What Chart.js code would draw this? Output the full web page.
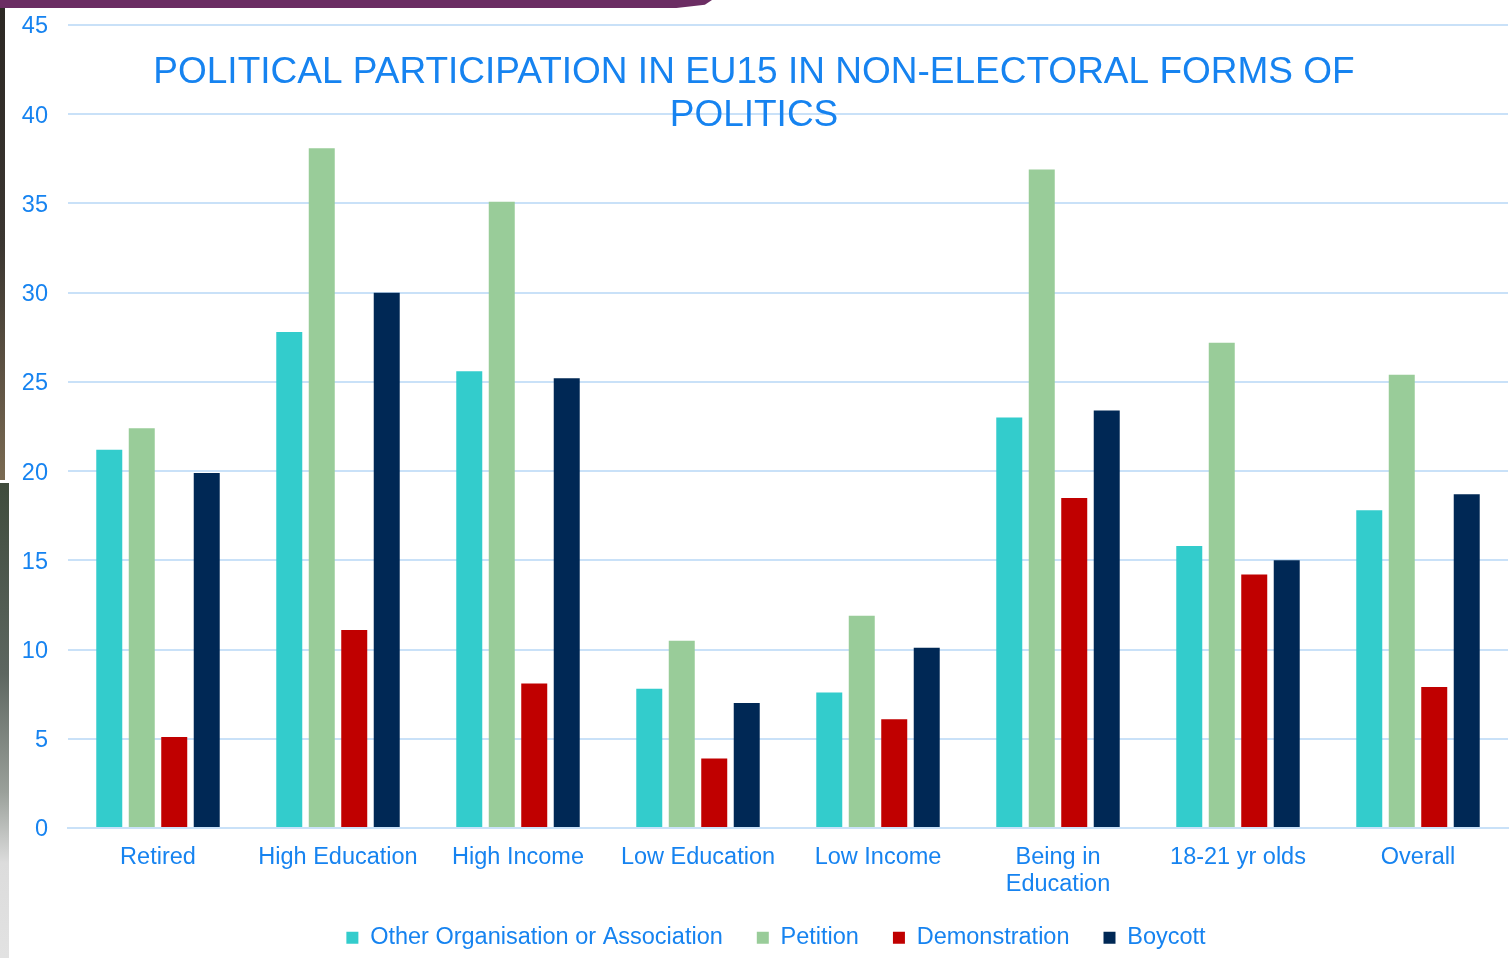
<!DOCTYPE html>
<html><head><meta charset="utf-8">
<script src="https://cdn.jsdelivr.net/npm/chart.js@4"></script>
<style>
html,body{margin:0;padding:0;background:#fff;overflow:hidden}
#wrap{position:relative;width:1511px;height:958px;background:#fff}
canvas{position:absolute;left:0;top:0}
#topbar{position:absolute;left:0;top:0;width:712px;height:8px;background:#6B2D63;clip-path:polygon(0 0,100% 0,99% 60%,95% 100%,0 100%)}
#strip1{position:absolute;left:0;top:8px;width:5px;height:472px;background:linear-gradient(#2c2824,#3b3631 50%,#7a6a52)}
#strip2{position:absolute;left:0;top:483px;width:9px;height:475px;background:linear-gradient(#3f4b3c,#5d6660 40%,#9aa09a 65%,#dcdcdc 80%,#e2e2e2)}
</style></head><body>
<div id="wrap">
<canvas id="c" width="1511" height="958"></canvas>
<div id="topbar"></div><div id="strip1"></div><div id="strip2"></div>
</div>
<script>
const categories = ['Retired','High Education','High Income','Low Education','Low Income',['Being in','Education'],'18-21 yr olds','Overall'];
const otherOrg = [21.2,27.8,25.6,7.8,7.6,23.0,15.8,17.8];
const petition = [22.4,38.1,35.1,10.5,11.9,36.9,27.2,25.4];
const demonstration = [5.1,11.1,8.1,3.9,6.1,18.5,14.2,7.9];
const boycott = [19.9,30.0,25.2,7.0,10.1,23.4,15.0,18.7];
const seriesNames = ['Other Organisation or Association','Petition','Demonstration','Boycott'];
const titleLines = ['POLITICAL PARTICIPATION IN EU15 IN NON-ELECTORAL FORMS OF','POLITICS'];

const BLUE = '#1683F0';
const GRID = '#C9E1F8';
const FONT = 'Liberation Sans';

const titlePlugin = {
  id: 'slideTitle',
  afterLayout(chart) {
    const lg = chart.legend;
    if (lg) { lg.left += 22; lg.right += 22; lg.top -= 22; }
  },
  afterDraw(chart) {
    const ctx = chart.ctx;
    ctx.save();
    ctx.font = '37px "' + FONT + '"';
    ctx.fillStyle = BLUE;
    ctx.textAlign = 'center';
    ctx.textBaseline = 'alphabetic';
    ctx.fillText(titleLines[0], 754, 82.5);
    ctx.fillText(titleLines[1], 754, 126);
    ctx.restore();
  }
};

const colors = ['#33CCCC','#99CC99','#C00000','#002855'];
const values = [otherOrg, petition, demonstration, boycott];

new Chart(document.getElementById('c'), {
  type: 'bar',
  data: {
    labels: categories,
    datasets: values.map((v, i) => ({
      label: seriesNames[i],
      data: v,
      backgroundColor: colors[i],
      borderWidth: 0,
      categoryPercentage: 0.722,
      barPercentage: 0.8
    }))
  },
  options: {
    responsive: false,
    animation: false,
    layout: { padding: { top: 25, right: 3, bottom: 0, left: 0 } },
    plugins: {
      legend: {
        position: 'bottom',
        maxHeight: 44,
        labels: {
          font: { family: FONT, size: 23.5 },
          color: BLUE,
          boxWidth: 12,
          boxHeight: 12,
          padding: 34
        }
      },
      title: { display: false },
      tooltip: { enabled: false }
    },
    scales: {
      x: {
        grid: { display: false, drawTicks: false },
        border: { color: GRID, width: 2 },
        ticks: {
          font: { family: FONT, size: 23.5, lineHeight: 1.15 },
          color: BLUE,
          padding: 16,
          maxRotation: 0,
          autoSkip: false
        },
        afterFit(s) { s.height = 86; }
      },
      y: {
        min: 0,
        max: 45,
        ticks: {
          stepSize: 5,
          padding: 20,
          labelOffset: 2,
          font: { family: FONT, size: 23.5, lineHeight: 0.4 },
          color: BLUE
        },
        grid: { color: GRID, lineWidth: 2, drawTicks: false },
        border: { display: false },
        afterFit(s) { s.width = 68; }
      }
    }
  },
  plugins: [titlePlugin]
});
</script>
</body></html>
